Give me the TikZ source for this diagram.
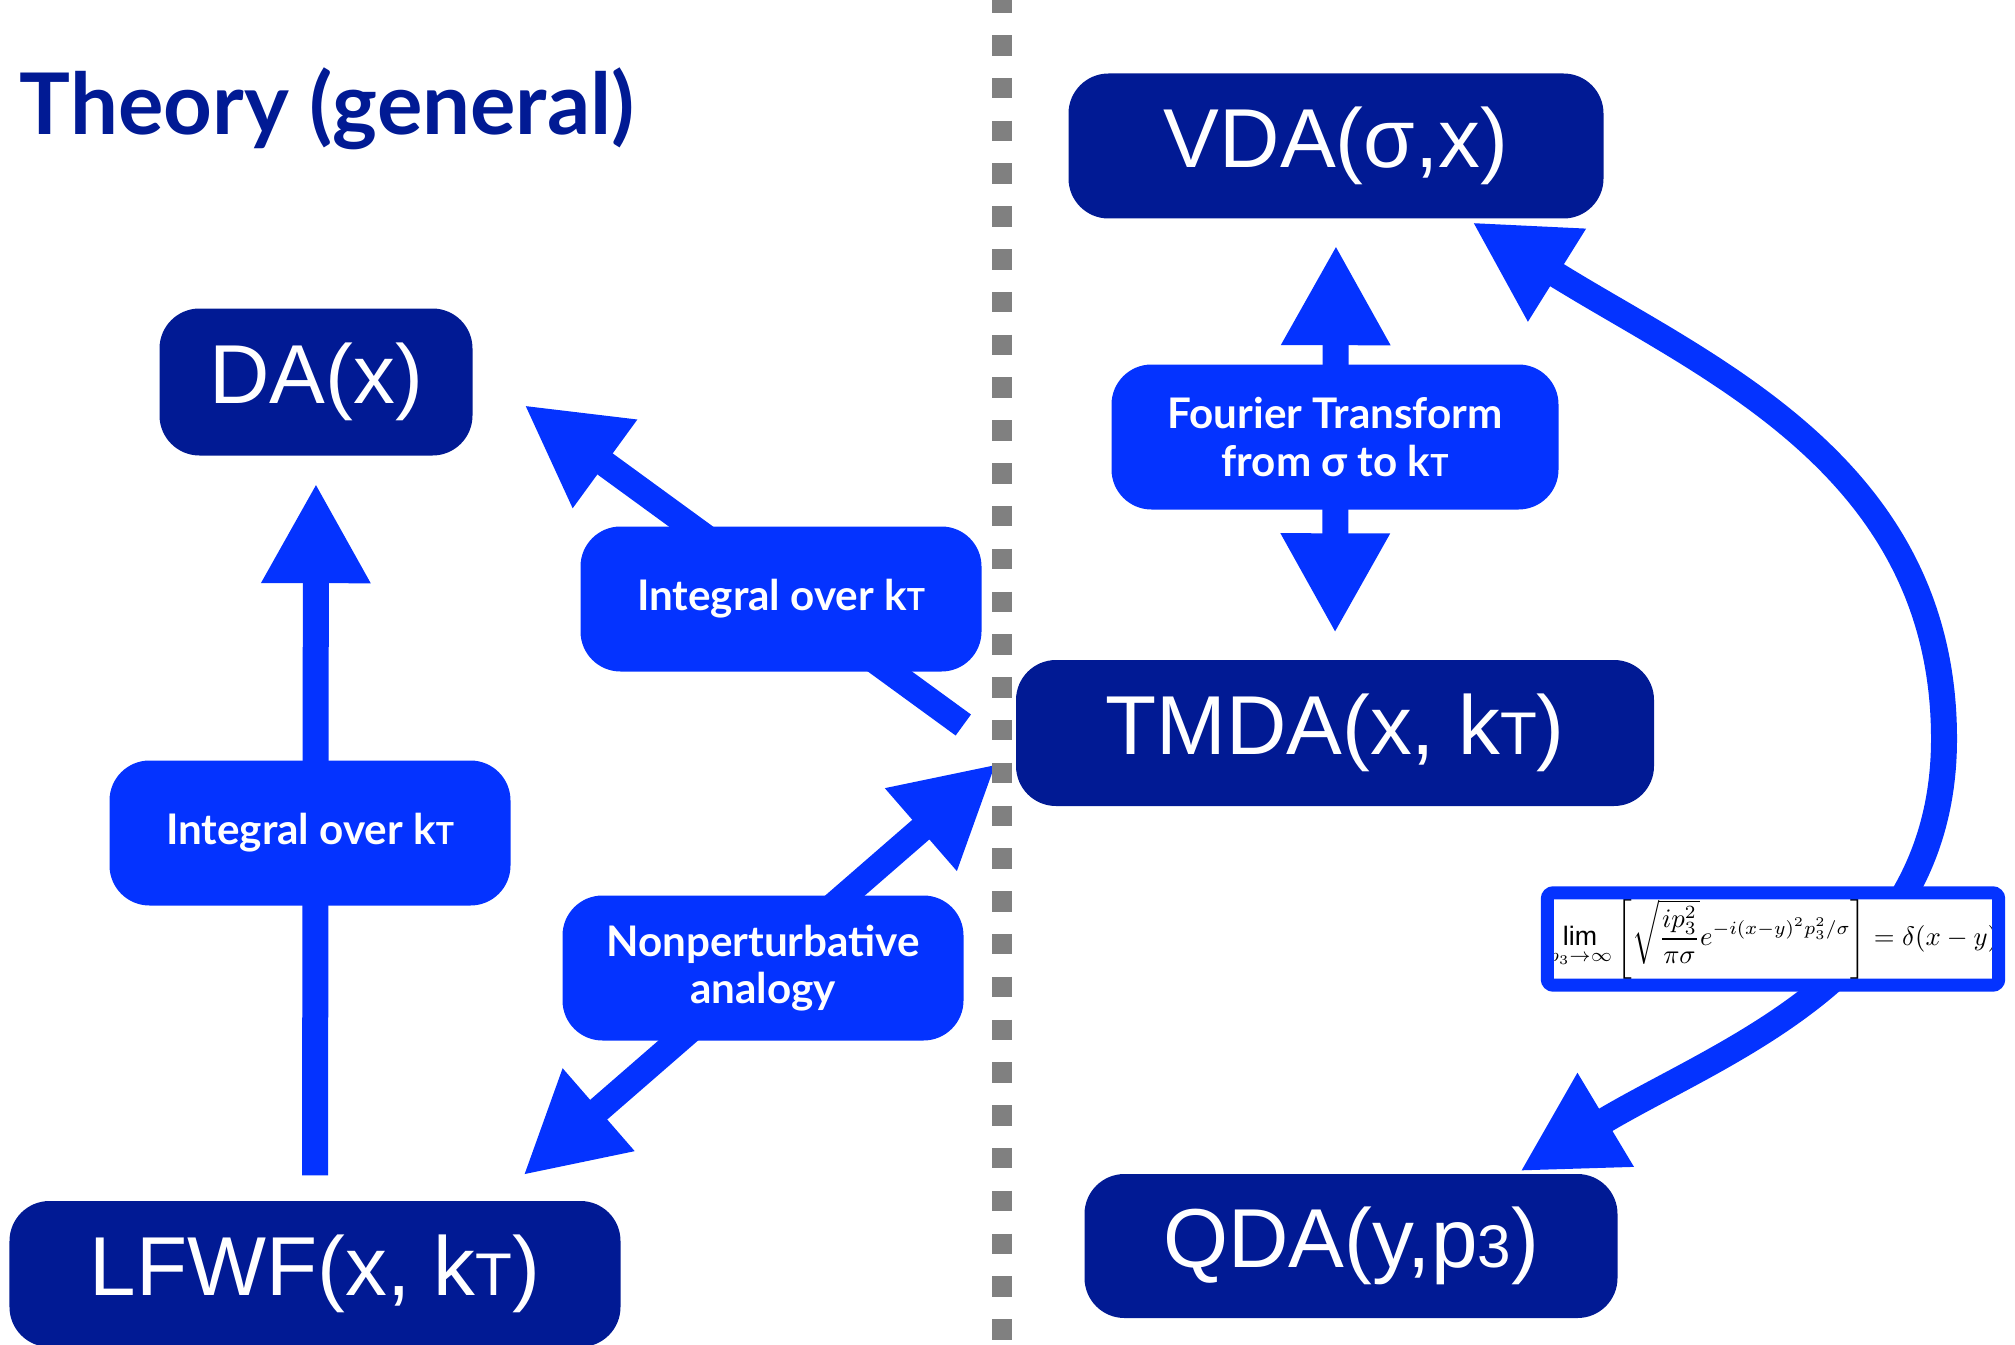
\documentclass[tikz,border=0pt]{standalone}
\usepackage{fontspec}
\usepackage{graphicx}
\usetikzlibrary{arrows.meta}

\setmainfont{Liberation Sans}
\newfontfamily\avenir{Lato}

\definecolor{blunotte}{RGB}{1,26,148}
\definecolor{bluvivo}{RGB}{4,51,255}
\definecolor{grigio}{RGB}{128,128,128}

% pedici piccoli sulla linea di base
\newcommand{\kT}{k\scalebox{0.72}{T}}
\newcommand{\pthree}{p\scalebox{0.72}{3}}

\begin{document}
\begin{tikzpicture}[
    box/.style={fill=blunotte, text=white, rounded corners=0.4cm, inner sep=0pt,
        font=\fontsize{23.8}{28}\selectfont},
    etichetta/.style={fill=bluvivo, text=white, rounded corners=0.4cm, inner sep=0pt,
        minimum width=4.01cm, minimum height=1.45cm, align=center,
        font=\avenir\bfseries\fontsize{12}{13.5}\selectfont},
    formula/.style={fill=white, inner sep=0pt, minimum width=4.5cm, minimum height=0.91cm},
    cornice/.style={draw=bluvivo, line width=0.13cm, rounded corners=0.06cm},
    punta/.tip={Triangle[length=1cm,width=1.02cm]},
    freccia/.style={draw=bluvivo, line width=0.26cm, -punta},
    doppia/.style={draw=bluvivo, line width=0.26cm, punta-punta},
]

    % area del disegno
    \useasboundingbox (0,0) rectangle (20.15,13.44);

    % titolo
    \node[anchor=base west, inner sep=0pt, text=blunotte,
        font=\avenir\bfseries\fontsize{24.2}{28}\selectfont] (titolo) at (0.19,12.09) {Theory (general)};

    % riquadri delle distribuzioni
    \node[box, minimum width=3.13cm, minimum height=1.47cm] (DA) at (3.16,9.62) {DA(x)};
    \node[box, minimum width=6.11cm, minimum height=1.46cm] (LFWF) at (3.15,0.70) {LFWF(x, \kT)};
    \node[box, minimum width=5.35cm, minimum height=1.45cm] (VDA) at (13.36,11.98) {VDA(σ,x)};
    \node[box, minimum width=6.38cm, minimum height=1.46cm] (TMDA) at (13.35,6.11) {TMDA(x, \kT)};
    \node[box, minimum width=5.33cm, minimum height=1.44cm] (QDA) at (13.51,0.98) {QDA(y,\pthree)};

    % frecce
    \draw[freccia, shorten <=0.25cm, shorten >=0.27cm] (LFWF.north) -- (DA.south);
    \draw[freccia] ([shift={(-0.52,0.08)}]TMDA.west) -- ([shift={(0.51,-0.23)}]DA.east);
    \draw[doppia] ([shift={(-0.98,0.25)}]LFWF.north east) -- ([shift={(-0.19,-0.31)}]TMDA.west);
    \draw[doppia, shorten <=0.26cm, shorten >=0.26cm] (VDA.south) -- (TMDA.north);
    \coordinate (curva) at (19.44,6.05);
    \draw[doppia] ([shift={(1.69,0.02)}]QDA.north) to[out=31,in=-90] (curva)
        to[out=90,in=-32] ([shift={(-1.32,-0.03)}]VDA.south east);

    % etichette sopra le frecce
    \node[etichetta] (intDA) at (3.10,5.11) {Integral over \kT};
    \node[etichetta] (intTMDA) at (7.81,7.45) {Integral over \kT};
    \node[etichetta] (analogia) at (7.63,3.76) {Nonperturbative\\analogy};
    \node[etichetta, minimum width=4.47cm] (fourier) at (13.35,9.07) {Fourier Transform\\from σ to \kT};

    % riquadro con la formula, cornice sopra il testo
    \node[formula] (limite) at (17.73,4.05) {\resizebox*{4.5cm}{0.80cm}{$\displaystyle
        \lim_{p_3\to\infty}\Bigg[\sqrt{\frac{ip_3^2}{\pi\sigma}}e^{-i(x-y)^2p_3^2/\sigma}\Bigg]=\delta(x-y)$}};
    \draw[cornice] (limite.south west) rectangle (limite.north east);

    % linea di separazione tratteggiata
    \draw[grigio, line width=0.205cm, dash pattern=on 2.05mm off 2.23mm, dash phase=0.77mm]
        (10.02,13.44) -- (10.02,0);

\end{tikzpicture}
\end{document}
